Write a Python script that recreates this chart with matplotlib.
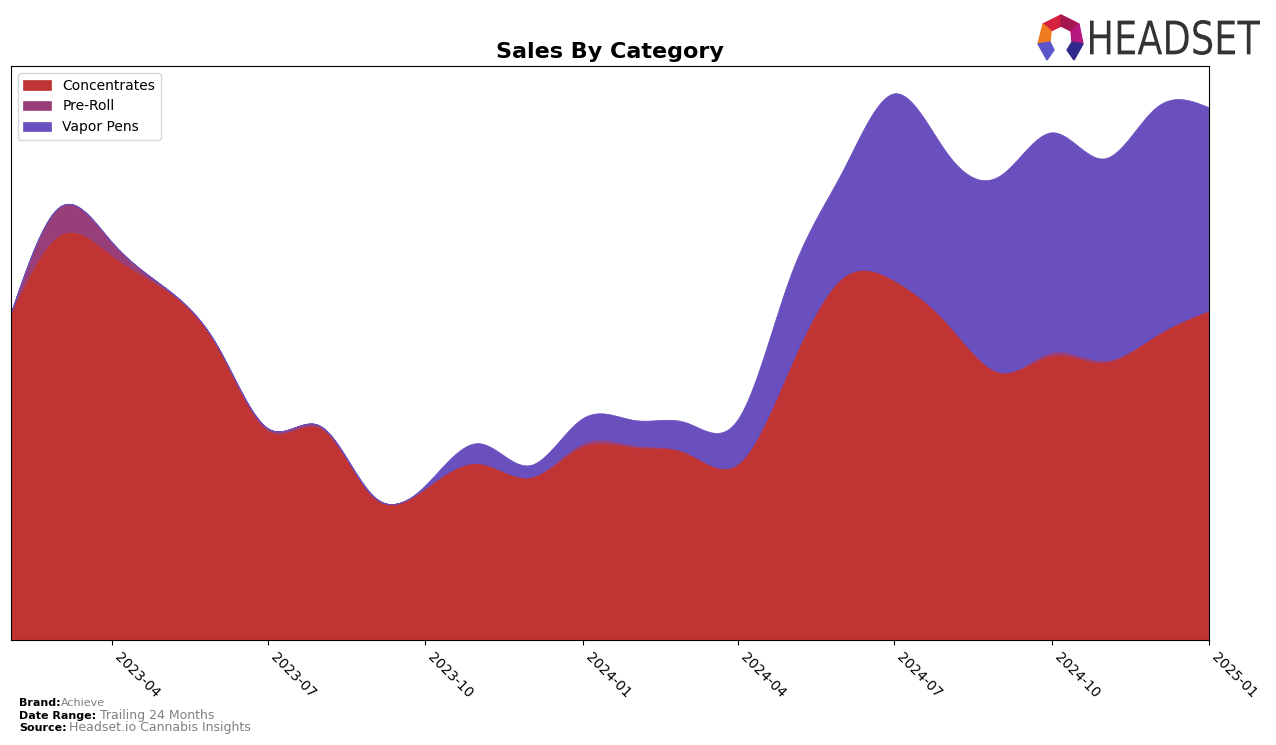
import numpy as np
import pandas as pd
import matplotlib
matplotlib.use("Agg")
import matplotlib.pyplot as plt
import matplotlib.dates as mdates
from matplotlib.patches import Polygon, PathPatch
from matplotlib.textpath import TextPath
from matplotlib.font_manager import FontProperties
from matplotlib.transforms import Affine2D

# monthly sales (relative units)
months = pd.date_range("2023-02-01", "2025-01-01", freq="MS")
categories = ["Concentrates", "Pre-Roll", "Vapor Pens"]
concentrates = [328, 405, 385, 352, 295, 210, 212, 143, 152, 177, 163, 194,
                193, 188, 177, 273, 363, 360, 317, 268, 285, 278, 305, 330]
pre_roll = [0, 28, 13, 2, 1, 2, 2, 0, 0, 0, 0, 3,
            2, 0, 0, 0, 0, 0, 0, 0, 3, 2, 0, 0]
vapor_pens = [0, 0, 0, 0, 0, 0, 0, 1, 3, 20, 12, 25,
              25, 30, 45, 90, 107, 187, 170, 197, 220, 202, 228, 203]
colors = ["#c03434", "#983f7a", "#6a4fbe"]


def natural_spline(x, y, xs):
    # plain natural cubic spline, used only to draw smooth edges
    n = len(x)
    h = np.diff(x)
    A = np.zeros((n, n))
    b = np.zeros(n)
    A[0, 0] = A[-1, -1] = 1
    for i in range(1, n - 1):
        A[i, i - 1] = h[i - 1]
        A[i, i] = 2 * (h[i - 1] + h[i])
        A[i, i + 1] = h[i]
        b[i] = 3 * ((y[i + 1] - y[i]) / h[i] - (y[i] - y[i - 1]) / h[i - 1])
    c = np.linalg.solve(A, b)
    idx = np.clip(np.searchsorted(x, xs) - 1, 0, n - 2)
    dx = xs - x[idx]
    hi = h[idx]
    bb = (y[idx + 1] - y[idx]) / hi - hi * (2 * c[idx] + c[idx + 1]) / 3
    dd = (c[idx + 1] - c[idx]) / (3 * hi)
    return y[idx] + bb * dx + c[idx] * dx ** 2 + dd * dx ** 3


x = mdates.date2num(months)
xs = np.linspace(x[0], x[-1], 1200)
stack = np.cumsum(np.array([concentrates, pre_roll, vapor_pens], dtype=float), axis=0)
smooth = [np.clip(natural_spline(x, s, xs), 0, None) for s in stack]
for i in range(1, 3):
    smooth[i] = np.maximum(smooth[i], smooth[i - 1])

fig = plt.figure(figsize=(12.76, 7.45), dpi=100)
ax = fig.add_axes([0.0086, 0.1409, 0.9389, 0.7705])

lower = np.zeros_like(xs)
for name, upper, col in zip(categories, smooth, colors):
    ax.fill_between(xs, lower, upper, color=col, label=name, lw=0.5, edgecolor=col)
    lower = upper

ax.set_xlim(x[0], x[-1])
ax.set_ylim(0, stack[-1].max() * 1.05)
ax.set_yticks([])
ax.xaxis.set_major_locator(mdates.MonthLocator(bymonth=[1, 4, 7, 10]))
ax.xaxis.set_major_formatter(mdates.DateFormatter("%Y-%m"))
plt.setp(ax.get_xticklabels(), rotation=-45, ha="left", fontsize=10)
ax.set_title("Sales By Category", fontsize=16, fontweight="bold", pad=6)
ax.legend(loc="upper left", fontsize=10)

# footer
fig.text(0.015, 0.052, "Brand:", fontsize=8, fontweight="bold")
fig.text(0.048, 0.052, "Achieve", fontsize=8, color="gray")
fig.text(0.015, 0.035, "Date Range:", fontsize=8, fontweight="bold")
fig.text(0.078, 0.035, "Trailing 24 Months", fontsize=9, color="gray")
fig.text(0.015, 0.019, "Source:", fontsize=8, fontweight="bold")
fig.text(0.054, 0.019, "Headset.io Cannabis Insights", fontsize=9, color="gray")

# logo
W, H = 1276, 745
def px(pts):
    return [(a / W, 1 - b / H) for a, b in pts]
icon = [
    ([(1043, 24), (1061, 15), (1061, 26), (1051, 31)], "#d4213d"),
    ([(1061, 15), (1079, 24), (1071, 31), (1061, 26)], "#a3164f"),
    ([(1043, 24), (1051, 31), (1050, 42), (1038, 44)], "#f07a1f"),
    ([(1079, 24), (1083, 44), (1072, 42), (1071, 31)], "#b5177f"),
    ([(1038, 44), (1050, 42), (1054, 50), (1047, 60)], "#5a55c8"),
    ([(1083, 44), (1072, 42), (1067, 50), (1074, 60)], "#2f2a8a"),
]
for pts, col in icon:
    fig.patches.append(Polygon(px(pts), closed=True, color=col, transform=fig.transFigure))

# condensed wordmark: squeeze a text path into the logo box (pixels 1090..1260, 20..55)
tp = TextPath((0, 0), "HEADSET", size=100, prop=FontProperties(family="DejaVu Sans"))
bb = tp.get_extents()
sx = (1260 - 1090) / bb.width
sy = (55 - 20) / bb.height
tr = Affine2D().translate(-bb.x0, -bb.y0).scale(sx / W, sy / H).translate(1090 / W, 1 - 55 / H)
fig.patches.append(PathPatch(tr.transform_path(tp), color="#333333", lw=0, transform=fig.transFigure))

fig.savefig("out.png", dpi=100)
